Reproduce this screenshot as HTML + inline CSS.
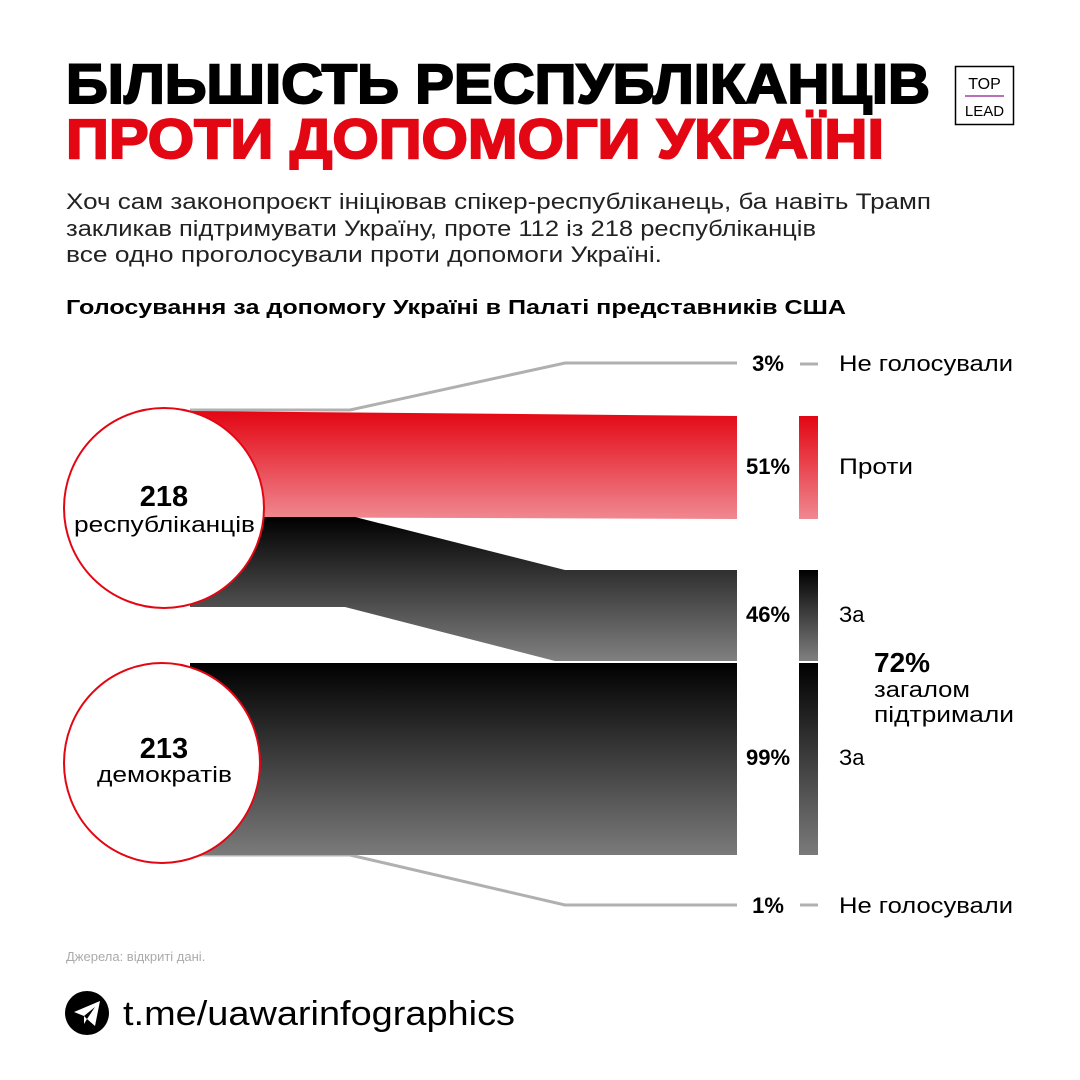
<!DOCTYPE html>
<html><head><meta charset="utf-8"><style>
html,body{margin:0;padding:0;background:#fff;}
svg{display:block;}
text{font-family:"Liberation Sans","DejaVu Sans",sans-serif;}
</style></head><body>
<svg width="1080" height="1080" viewBox="0 0 1080 1080" xmlns="http://www.w3.org/2000/svg">
<defs>
<linearGradient id="gr" x1="0" y1="0" x2="0" y2="1"><stop offset="0" stop-color="#e30613"/><stop offset="1" stop-color="#f08890"/></linearGradient>
<linearGradient id="gb" x1="0" y1="0" x2="0" y2="1"><stop offset="0" stop-color="#000"/><stop offset="1" stop-color="#808080"/></linearGradient>
<linearGradient id="gb2" x1="0" y1="0" x2="0" y2="1"><stop offset="0" stop-color="#000"/><stop offset="1" stop-color="#7a7a7a"/></linearGradient>
</defs>
<rect width="1080" height="1080" fill="#fff"/>
<text x="66" y="103" font-size="56" font-weight="900" fill="#000" textLength="864" lengthAdjust="spacingAndGlyphs" stroke="#000" stroke-width="2">БІЛЬШІСТЬ РЕСПУБЛІКАНЦІВ</text>
<text x="66" y="158" font-size="56" font-weight="900" fill="#e30613" textLength="818" lengthAdjust="spacingAndGlyphs" stroke="#e30613" stroke-width="2">ПРОТИ ДОПОМОГИ УКРАЇНІ</text>
<rect x="955.5" y="66.5" width="58" height="58" fill="none" stroke="#000" stroke-width="1.5"/>
<text x="984.5" y="89" font-size="16" text-anchor="middle" fill="#000">TOP</text>
<line x1="965" y1="96" x2="1004" y2="96" stroke="#a040a0" stroke-width="1.5"/>
<text x="984.5" y="116" font-size="15" text-anchor="middle" fill="#000">LEAD</text>
<text x="66" y="209" font-size="22" fill="#222" textLength="865" lengthAdjust="spacingAndGlyphs">Хоч сам законопроєкт ініціював спікер-республіканець, ба навіть Трамп</text>
<text x="66" y="236" font-size="22" fill="#222" textLength="750" lengthAdjust="spacingAndGlyphs">закликав підтримувати Україну, проте 112 із 218 республіканців</text>
<text x="66" y="262" font-size="22" fill="#222" textLength="596" lengthAdjust="spacingAndGlyphs">все одно проголосували проти допомоги Україні.</text>
<text x="66" y="314" font-size="20" font-weight="bold" fill="#000" textLength="780" lengthAdjust="spacingAndGlyphs">Голосування за допомогу Україні в Палаті представників США</text>
<polyline points="190,410 350,410 565,363 737,363" fill="none" stroke="#b0b0b0" stroke-width="3"/>
<polyline points="190,855 350,855 565,905 737,905" fill="none" stroke="#b0b0b0" stroke-width="3"/>
<polygon points="190,411 737,416 737,519 190,517" fill="url(#gr)"/>
<polygon points="190,517 355,517 565,570 737,570 737,661 555,661 345,607 190,607" fill="url(#gb)"/>
<polygon points="190,663 737,663 737,855 190,855" fill="url(#gb2)"/>
<ellipse cx="164" cy="508" rx="100" ry="100" fill="#fff" stroke="#e30613" stroke-width="2"/>
<ellipse cx="162" cy="763" rx="98" ry="100" fill="#fff" stroke="#e30613" stroke-width="2"/>
<text x="164" y="506" font-size="29" font-weight="900" text-anchor="middle" fill="#000">218</text>
<text x="74" y="532" font-size="22" fill="#000" textLength="181" lengthAdjust="spacingAndGlyphs">республіканців</text>
<text x="164" y="758" font-size="29" font-weight="900" text-anchor="middle" fill="#000">213</text>
<text x="97" y="782" font-size="22" fill="#000" textLength="135" lengthAdjust="spacingAndGlyphs">демократів</text>
<g font-size="22" font-weight="900" text-anchor="middle" fill="#000">
<text x="768" y="371">3%</text>
<text x="768" y="474">51%</text>
<text x="768" y="622">46%</text>
<text x="768" y="765">99%</text>
<text x="768" y="913">1%</text>
</g>
<line x1="800" y1="364" x2="818" y2="364" stroke="#b0b0b0" stroke-width="3"/>
<line x1="800" y1="905" x2="818" y2="905" stroke="#b0b0b0" stroke-width="3"/>
<rect x="799" y="416" width="19" height="103" fill="url(#gr)"/>
<rect x="799" y="570" width="19" height="91" fill="url(#gb)"/>
<rect x="799" y="663" width="19" height="192" fill="url(#gb2)"/>
<g font-size="22" fill="#000">
<text x="839" y="371" textLength="174" lengthAdjust="spacingAndGlyphs">Не голосували</text>
<text x="839" y="474" textLength="74" lengthAdjust="spacingAndGlyphs">Проти</text>
<text x="839" y="622">За</text>
<text x="839" y="765">За</text>
<text x="839" y="913" textLength="174" lengthAdjust="spacingAndGlyphs">Не голосували</text>
<text x="874" y="672" font-size="28" font-weight="900">72%</text>
<text x="874" y="697" textLength="96" lengthAdjust="spacingAndGlyphs">загалом</text>
<text x="874" y="722" textLength="140" lengthAdjust="spacingAndGlyphs">підтримали</text>
</g>
<text x="66" y="961" font-size="13" fill="#aaa">Джерела: відкриті дані.</text>
<circle cx="87" cy="1013" r="22" fill="#000"/>
<polygon points="74,1012 100,1001 95,1026 87,1019 84,1024 84,1016" fill="#fff"/>
<polygon points="84,1016 95,1007 87,1019" fill="#000"/>
<text x="123" y="1025" font-size="34" fill="#000" textLength="392" lengthAdjust="spacingAndGlyphs">t.me/uawarinfographics</text>
</svg>
</body></html>
